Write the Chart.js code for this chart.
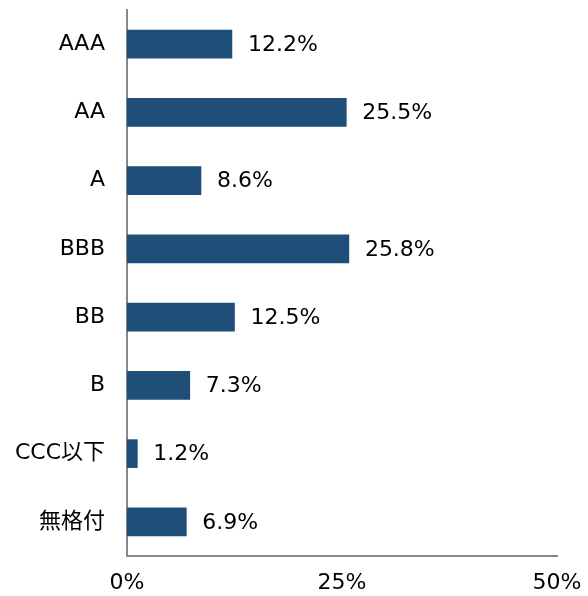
<!DOCTYPE html>
<html><head><meta charset="utf-8">
<script src="https://cdn.jsdelivr.net/npm/chart.js@4/dist/chart.umd.min.js"></script>
<style>html,body{margin:0;padding:0;background:#fff}#wrap{width:588px;height:596px}</style>
</head><body><div id="wrap"><canvas id="c"></canvas></div>
<script>
const categories = ["AAA","AA","A","BBB","BB","B","CCC以下","無格付"];
const shares = [12.2, 25.5, 8.6, 25.8, 12.5, 7.3, 1.2, 6.9];
const tickValues = [0, 25, 50];

const FONT = '"DejaVu Sans", "Noto Sans CJK JP", sans-serif';
const FSIZE = 22;

const valueLabels = {
  id: 'valueLabels',
  afterDatasetsDraw(chart) {
    const ctx = chart.ctx;
    const meta = chart.getDatasetMeta(0);
    ctx.save();
    ctx.font = FSIZE + 'px ' + FONT;
    ctx.fillStyle = '#000';
    ctx.textAlign = 'left';
    ctx.textBaseline = 'middle';
    meta.data.forEach((bar, i) => {
      ctx.fillText(shares[i].toFixed(1) + '%', bar.x + 16, bar.y + 1);
    });
    ctx.restore();
  }
};

new Chart(document.getElementById('c'), {
  type: 'bar',
  data: {
    labels: categories,
    datasets: [{ data: shares, backgroundColor: '#1F4E79', barThickness: 28 }]
  },
  options: {
    indexAxis: 'y',
    responsive: true,
    maintainAspectRatio: false,
    animation: false,
    layout: { padding: { top: 10, right: 31, left: 0, bottom: 0 } },
    plugins: { legend: { display: false }, tooltip: { enabled: false } },
    scales: {
      x: {
        min: 0, max: 50,
        afterBuildTicks(s) { s.ticks = tickValues.map(v => ({ value: v })); },
        afterFit(s) { s.height = 40; s.paddingLeft = 0; s.paddingRight = 0; },
        grid: { display: false, drawTicks: false },
        border: { color: '#888', width: 2 },
        ticks: { padding: 14, color: '#000', font: { family: FONT, size: FSIZE }, callback: v => v + '%', maxRotation: 0 }
      },
      y: {
        afterFit(s) { s.width = 127; s.paddingTop = 0; s.paddingBottom = 0; },
        grid: { display: false, drawTicks: false },
        border: { color: '#888', width: 2 },
        ticks: { padding: 22, color: '#000', font: { family: FONT, size: FSIZE } }
      }
    }
  },
  plugins: [valueLabels]
});
</script></body></html>
